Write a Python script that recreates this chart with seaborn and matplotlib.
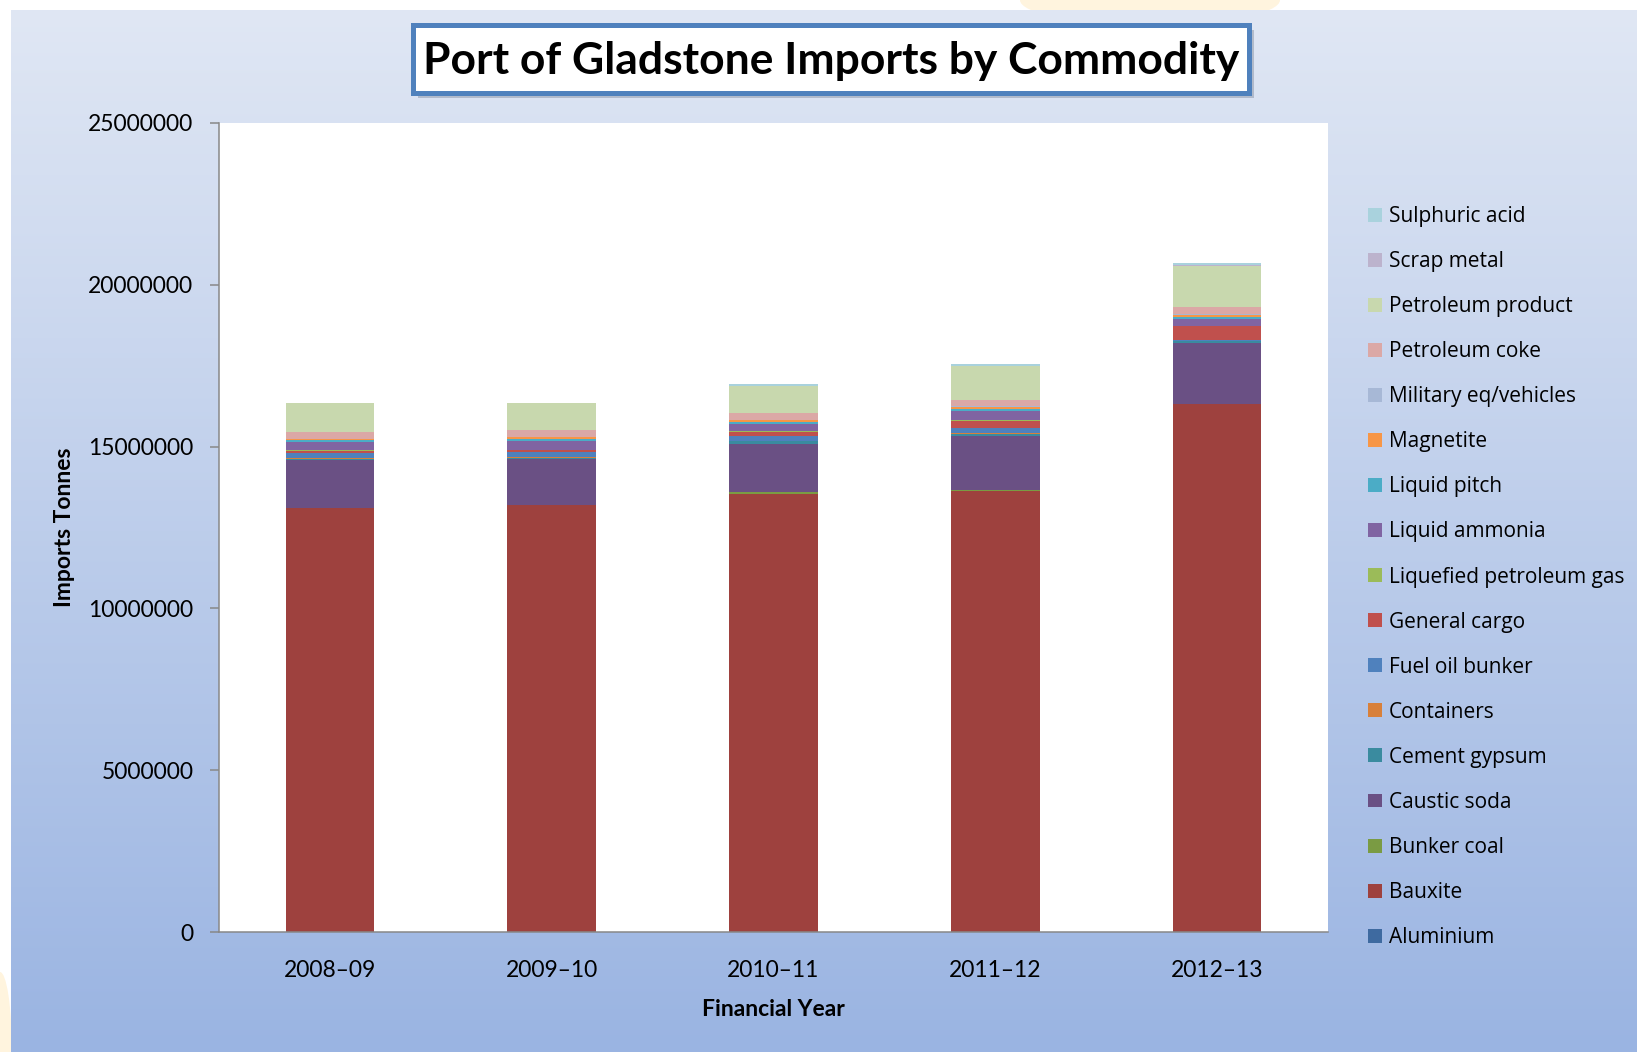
import numpy as np
import matplotlib
matplotlib.use("Agg")
import matplotlib.pyplot as plt
from matplotlib.patches import Rectangle, Patch, Ellipse
from matplotlib.ticker import FuncFormatter
import seaborn as sns

# ---- data (tonnes) ----
years = ["2008–09", "2009–10", "2010–11", "2011–12", "2012–13"]

aluminium         = [10000, 10000, 10000, 10000, 10000]
bauxite           = [13080000, 13170000, 13520000, 13630000, 16300000]
bunker_coal       = [10000, 10000, 70000, 10000, 10000]
caustic_soda      = [1470000, 1420000, 1490000, 1670000, 1890000]
cement_gypsum     = [60000, 50000, 70000, 80000, 50000]
containers        = [10000, 5000, 10000, 10000, 10000]
fuel_oil_bunker   = [155000, 175000, 155000, 155000, 30000]
general_cargo     = [72000, 50000, 110000, 230000, 410000]
lpg               = [30000, 10000, 30000, 30000, 20000]
liquid_ammonia    = [240000, 270000, 230000, 260000, 220000]
liquid_pitch      = [50000, 50000, 50000, 70000, 50000]
magnetite         = [40000, 60000, 60000, 80000, 70000]
military          = [10000, 10000, 10000, 10000, 20000]
petroleum_coke    = [210000, 210000, 230000, 185000, 210000]
petroleum_product = [890000, 830000, 820000, 1050000, 1290000]
scrap_metal       = [20000, 10000, 10000, 10000, 10000]
sulphuric_acid    = [0, 0, 50000, 70000, 70000]

series_names = ["Aluminium", "Bauxite", "Bunker coal", "Caustic soda",
                "Cement gypsum", "Containers", "Fuel oil bunker",
                "General cargo", "Liquefied petroleum gas", "Liquid ammonia",
                "Liquid pitch", "Magnetite", "Military eq/vehicles",
                "Petroleum coke", "Petroleum product", "Scrap metal",
                "Sulphuric acid"]
series_values = [aluminium, bauxite, bunker_coal, caustic_soda, cement_gypsum,
                 containers, fuel_oil_bunker, general_cargo, lpg,
                 liquid_ammonia, liquid_pitch, magnetite, military,
                 petroleum_coke, petroleum_product, scrap_metal, sulphuric_acid]
series_colors = ["#3E6AA0", "#9E413E", "#7A9B43", "#6A5084", "#3A8B9F",
                 "#D8803A", "#4F81BD", "#C0504D", "#9BBB59", "#8064A2",
                 "#4BACC6", "#F79646", "#A7B8D6", "#DBA8A6", "#C8D8AE",
                 "#BCB3CD", "#A9D2DD"]

W, H = 1637, 1052
fig = plt.figure(figsize=(W / 100, H / 100), dpi=100)
fig.patch.set_facecolor("white")

def fx(px):
    return px / W

def fy(py):
    return 1 - py / H

# faint warm glow in the margins
for (cx, cy, ew, eh) in [(1150, 0, 260, 50), (0, 1052, 24, 160)]:
    fig.patches.append(Ellipse((fx(cx), fy(cy)), ew / W, eh / H,
                               transform=fig.transFigure, facecolor="#FFF4DE",
                               edgecolor="none", zorder=-20))

# gradient panel behind the chart
bg = fig.add_axes([fx(11), 0, 1 - fx(11), 1 - 10 / H], zorder=-10)
top_c = np.array([0xE0, 0xE7, 0xF4]) / 255
bot_c = np.array([0x9A, 0xB4, 0xE2]) / 255
t = np.linspace(0, 1, 256)[:, None]
grad = (top_c[None, :] * (1 - t) + bot_c[None, :] * t)[:, None, :]
bg.imshow(grad, aspect="auto", extent=[0, 1, 0, 1], interpolation="bicubic")
bg.set_axis_off()

# plot area
ax = fig.add_axes([fx(219), fy(932.3), (1328 - 219) / W, (932.3 - 122.7) / H])
ax.set_facecolor("white")

bottom = np.zeros(len(years))
for name, vals, col in zip(series_names, series_values, series_colors):
    vals = np.asarray(vals, dtype=float)
    sns.barplot(x=years, y=vals, bottom=bottom, color=col, width=0.4,
                saturation=1, linewidth=0, errorbar=None, ax=ax)
    bottom = bottom + vals

ax.set_xlim(-0.5, len(years) - 0.5)
ax.set_ylim(0, 25000000)
ax.set_yticks(np.arange(0, 25000001, 5000000))
ax.yaxis.set_major_formatter(FuncFormatter(lambda v, p: f"{int(v)}"))

tick_font = "Lato"
for lab in ax.get_yticklabels() + ax.get_xticklabels():
    lab.set_fontfamily(tick_font)
    lab.set_fontsize(16.5)
    lab.set_color("black")

ax.tick_params(axis="y", length=6.5, width=1.1, color="#888888", pad=12)
ax.tick_params(axis="x", length=0, pad=20)
for side in ["top", "right"]:
    ax.spines[side].set_visible(False)
for side in ["left", "bottom"]:
    ax.spines[side].set_color("#888888")
    ax.spines[side].set_linewidth(1.1)

ax.set_ylabel("Imports Tonnes", fontsize=16.5, fontweight="bold",
              fontfamily=tick_font)
ax.yaxis.set_label_coords((75 - 219) / 1109, 0.5)
ax.set_xlabel("Financial Year", fontsize=16.5, fontweight="bold",
              fontfamily=tick_font)
ax.xaxis.set_label_coords(0.5, (932 - 999) / 810)

# legend, last series first
handles = [Patch(facecolor=c, edgecolor="none", label=n)
           for n, c in zip(series_names, series_colors)][::-1]
fig.legend(handles=handles, loc="upper left",
           bbox_to_anchor=(fx(1368), fy(206)), frameon=False,
           prop={"family": "Open Sans", "size": 15},
           handlelength=0.65, handleheight=0.65, handletextpad=0.35,
           labelspacing=1.155, borderpad=0, borderaxespad=0)

# boxed title
x0, y0, x1, y1 = 413, 25, 1249, 93
fig.patches.append(Rectangle((fx(x0 + 5), fy(y1 + 5)), (x1 - x0) / W, (y1 - y0) / H,
                             transform=fig.transFigure, facecolor="#7F8A9C",
                             edgecolor="none", alpha=0.45, zorder=4))
fig.patches.append(Rectangle((fx(x0), fy(y1)), (x1 - x0) / W, (y1 - y0) / H,
                             transform=fig.transFigure, facecolor="white",
                             edgecolor="#4F81BD", linewidth=3.6, zorder=5))
title = fig.text(fx((x0 + x1) / 2), fy(61), "Port of Gladstone Imports by Commodity",
                 ha="center", va="center", fontsize=30, fontweight="bold",
                 fontfamily="Lato", color="black", zorder=6)
fig.canvas.draw()
w = title.get_window_extent().width
title.set_fontsize(30 * 816 / w)

fig.savefig("out.png", dpi=100, facecolor=fig.get_facecolor())
